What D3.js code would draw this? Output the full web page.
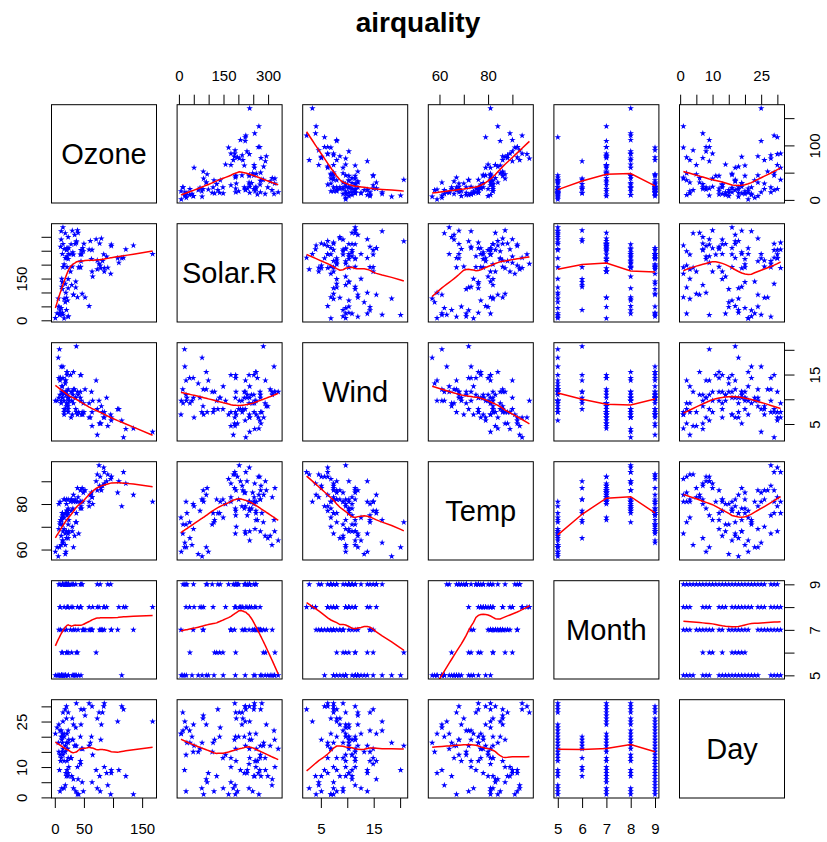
<!DOCTYPE html>
<html>
<head>
<meta charset="utf-8">
<script src="https://cdn.jsdelivr.net/npm/d3@7"></script>
<style>
  body { margin: 0; background: #fff; }
  text { font-family: "Liberation Sans", Arial, Helvetica, sans-serif; }
</style>
</head>
<body>
<div id="container"></div>
<script>
const width = 827, height = 842;

// airquality data (null = NA)
const varNames = ["Ozone", "Solar.R", "Wind", "Temp", "Month", "Day"];

const ozone = [
  41,36,12,18,null,28,23,19,8,null,7,16,11,14,18,14,34,6,30,11,1,11,4,32,null,null,null,23,45,115,37,
  null,null,null,null,null,null,29,null,71,39,null,null,23,null,null,21,37,20,12,13,null,null,null,null,null,null,null,null,null,null,
  135,49,32,null,64,40,77,97,97,85,null,10,27,null,7,48,35,61,79,63,16,null,null,80,108,20,52,82,50,64,59,
  39,9,16,78,35,66,122,89,110,null,null,44,28,65,null,22,59,23,31,44,21,9,null,45,168,73,null,76,118,84,85,
  96,78,73,91,47,32,20,23,21,24,44,21,28,9,13,46,18,13,24,16,13,23,36,7,14,30,null,14,18,20
];
const solarR = [
  190,118,149,313,null,null,299,99,19,194,null,256,290,274,65,334,307,78,322,44,8,320,25,92,66,266,null,13,252,223,279,
  286,287,242,186,220,264,127,273,291,323,259,250,148,332,322,191,284,37,120,137,150,59,91,250,135,127,47,98,31,138,
  269,248,236,101,175,314,276,267,272,175,139,264,175,291,48,260,274,285,187,220,7,258,295,294,223,81,82,213,275,253,254,
  83,24,77,null,null,null,255,229,207,222,137,192,273,157,64,71,51,115,244,190,259,36,255,212,238,215,153,203,225,237,188,
  167,197,183,189,95,92,252,220,230,259,236,259,238,24,112,237,224,27,238,201,238,14,139,49,20,193,145,191,131,223
];
const wind = [
  7.4,8.0,12.6,11.5,14.3,14.9,8.6,13.8,20.1,8.6,6.9,9.7,9.2,10.9,13.2,11.5,12.0,18.4,11.5,9.7,9.7,16.6,9.7,12.0,16.6,14.9,8.0,12.0,14.9,5.7,7.4,
  8.6,9.7,16.1,9.2,8.6,14.3,9.7,6.9,13.8,11.5,10.9,9.2,8.0,13.8,11.5,14.9,20.7,9.2,11.5,10.3,6.3,1.7,4.6,6.3,8.0,8.0,10.3,11.5,14.9,8.0,
  4.1,9.2,9.2,10.9,4.6,10.9,5.1,6.3,5.7,7.4,8.6,14.3,14.9,14.9,14.3,6.9,10.3,6.3,5.1,11.5,6.9,9.7,11.5,8.6,8.0,8.6,12.0,7.4,7.4,7.4,9.2,
  6.9,13.8,7.4,6.9,7.4,4.6,4.0,10.3,8.0,8.6,11.5,11.5,11.5,9.7,11.5,10.3,6.3,7.4,10.9,10.3,15.5,14.3,12.6,9.7,3.4,8.0,5.7,9.7,2.3,6.3,6.3,
  6.9,5.1,2.8,4.6,7.4,15.5,10.9,10.3,10.9,9.7,14.9,15.5,6.3,10.9,11.5,6.9,13.8,10.3,10.3,8.0,12.6,9.2,10.3,10.3,16.6,6.9,13.2,14.3,8.0,11.5
];
const temp = [
  67,72,74,62,56,66,65,59,61,69,74,69,66,68,58,64,66,57,68,62,59,73,61,61,57,58,57,67,81,79,76,
  78,74,67,84,85,79,82,87,90,87,93,92,82,80,79,77,72,65,73,76,77,76,76,76,75,78,73,80,77,83,
  84,85,81,84,83,83,88,92,92,89,82,73,81,91,80,81,82,84,87,85,74,81,82,86,85,82,86,88,86,83,81,
  81,81,82,86,85,87,89,90,90,92,86,86,82,80,79,77,79,76,78,78,77,72,75,79,81,86,88,97,94,96,94,
  91,92,93,93,87,84,80,78,75,73,81,76,77,71,71,78,67,76,68,82,64,71,81,69,63,70,77,75,76,68
];
const month = [
  5,5,5,5,5,5,5,5,5,5,5,5,5,5,5,5,5,5,5,5,5,5,5,5,5,5,5,5,5,5,5,
  6,6,6,6,6,6,6,6,6,6,6,6,6,6,6,6,6,6,6,6,6,6,6,6,6,6,6,6,6,6,
  7,7,7,7,7,7,7,7,7,7,7,7,7,7,7,7,7,7,7,7,7,7,7,7,7,7,7,7,7,7,7,
  8,8,8,8,8,8,8,8,8,8,8,8,8,8,8,8,8,8,8,8,8,8,8,8,8,8,8,8,8,8,8,
  9,9,9,9,9,9,9,9,9,9,9,9,9,9,9,9,9,9,9,9,9,9,9,9,9,9,9,9,9,9
];
const day = [
  1,2,3,4,5,6,7,8,9,10,11,12,13,14,15,16,17,18,19,20,21,22,23,24,25,26,27,28,29,30,31,
  1,2,3,4,5,6,7,8,9,10,11,12,13,14,15,16,17,18,19,20,21,22,23,24,25,26,27,28,29,30,
  1,2,3,4,5,6,7,8,9,10,11,12,13,14,15,16,17,18,19,20,21,22,23,24,25,26,27,28,29,30,31,
  1,2,3,4,5,6,7,8,9,10,11,12,13,14,15,16,17,18,19,20,21,22,23,24,25,26,27,28,29,30,31,
  1,2,3,4,5,6,7,8,9,10,11,12,13,14,15,16,17,18,19,20,21,22,23,24,25,26,27,28,29,30
];
const columns = [ozone, solarR, wind, temp, month, day];

// tick positions and which ticks get a label (x axes / y axes)
const tickValues = [
  [0,50,100,150], [0,50,100,150,200,250,300], [5,10,15,20],
  [60,70,80,90], [5,6,7,8,9], [0,5,10,15,20,25,30]
];
const xTickLabels = [[0,50,150], [0,150,300], [5,15], [60,80], [5,6,7,8,9], [0,10,25]];
const yTickLabels = [[0,100], [0,150], [5,15], [60,80], [5,7,9], [0,10,25]];

// layout
const left0 = 51.5, top0 = 104.7,
  panelW = 105, panelH = 98.3,
  stepX = 125.6, stepY = 119,
  nVar = varNames.length;

// rows with no NA (the plot drops incomplete rows)
const complete = d3.range(ozone.length).filter(k => columns.every(c => c[k] !== null));

const svg = d3.select("#container")
  .append("svg")
  .attr("width", width)
  .attr("height", height);

// R style range, extended by 4%
function extRange(col) {
  const e = d3.extent(complete, k => col[k]);
  const r = e[1] - e[0];
  return [e[0] - 0.04 * r, e[1] + 0.04 * r];
}

const xScales = columns.map((col, j) => d3.scaleLinear()
  .domain(extRange(col))
  .range([left0 + j * stepX, left0 + j * stepX + panelW]));
const yScales = columns.map((col, i) => d3.scaleLinear()
  .domain(extRange(col))
  .range([top0 + i * stepY + panelH, top0 + i * stepY]));

// port of R's clowess (f = 2/3, iter = 3)
function lowess(xIn, yIn, f = 2 / 3, iter = 3) {
  const idx = d3.range(xIn.length).sort((a, b) => xIn[a] - xIn[b]);
  const x = idx.map(k => xIn[k]), y = idx.map(k => yIn[k]);
  const n = x.length;
  const delta = 0.01 * (x[n - 1] - x[0]);
  const ns = Math.max(2, Math.min(n, Math.floor(f * n + 1e-7)));
  const ys = new Array(n).fill(0), rw = new Array(n).fill(1),
    res = new Array(n).fill(0), w = new Array(n).fill(0);

  function lowest(xs, nleft, nright, userw) {
    const range = x[n - 1] - x[0];
    const h = Math.max(xs - x[nleft], x[nright] - xs);
    const h9 = 0.999 * h, h1 = 0.001 * h;
    let a = 0, j = nleft;
    while (j < n) {
      w[j] = 0;
      const r = Math.abs(x[j] - xs);
      if (r <= h9) {
        if (r <= h1) w[j] = 1;
        else w[j] = Math.pow(1 - Math.pow(r / h, 3), 3);
        if (userw) w[j] *= rw[j];
        a += w[j];
      } else if (x[j] > xs) break;
      j++;
    }
    const nrt = j - 1;
    if (a <= 0) return null;
    for (j = nleft; j <= nrt; j++) w[j] /= a;
    if (h > 0) {
      a = 0;
      for (j = nleft; j <= nrt; j++) a += w[j] * x[j];
      let b = xs - a, c = 0;
      for (j = nleft; j <= nrt; j++) c += w[j] * (x[j] - a) * (x[j] - a);
      if (Math.sqrt(c) > 0.001 * range) {
        b /= c;
        for (j = nleft; j <= nrt; j++) w[j] *= (b * (x[j] - a) + 1);
      }
    }
    let out = 0;
    for (j = nleft; j <= nrt; j++) out += w[j] * y[j];
    return out;
  }

  for (let it = 1; it <= iter + 1; it++) {
    let nleft = 0, nright = ns - 1, last = -1, i = 0;
    for (;;) {
      if (nright < n - 1) {
        const d1 = x[i] - x[nleft], d2 = x[nright + 1] - x[i];
        if (d1 > d2) { nleft++; nright++; continue; }
      }
      const v = lowest(x[i], nleft, nright, it > 1);
      ys[i] = v === null ? y[i] : v;
      if (last < i - 1) {
        const denom = x[i] - x[last];
        for (let j = last + 1; j < i; j++) {
          const alpha = (x[j] - x[last]) / denom;
          ys[j] = alpha * ys[i] + (1 - alpha) * ys[last];
        }
      }
      last = i;
      const cut = x[last] + delta;
      for (i = last + 1; i < n; i++) {
        if (x[i] > cut) break;
        if (x[i] === x[last]) { ys[i] = ys[last]; last = i; }
      }
      i = Math.max(last + 1, i - 1);
      if (last >= n - 1) break;
    }
    for (let k = 0; k < n; k++) res[k] = y[k] - ys[k];
    const sc = d3.sum(res, d => Math.abs(d)) / n;
    if (it > iter) break;
    const ar = res.map(d => Math.abs(d));
    const sorted = ar.slice().sort((a, b) => a - b);
    const m1 = Math.floor(n / 2);
    const cmad = n % 2 === 0 ? 3 * (sorted[m1] + sorted[m1 - 1]) : 6 * sorted[m1];
    if (cmad < 1e-7 * sc) break;
    const c9 = 0.999 * cmad, c1 = 0.001 * cmad;
    for (let k = 0; k < n; k++) {
      const r = ar[k];
      rw[k] = r <= c1 ? 1 : (r <= c9 ? Math.pow(1 - (r / cmad) * (r / cmad), 2) : 0);
    }
  }
  return x.map((xv, k) => [xv, ys[k]]);
}

const star = d3.symbol().type(d3.symbolStar).size(13);
const defs = svg.append("defs");

// panels
for (let i = 0; i < nVar; i++) {
  for (let j = 0; j < nVar; j++) {
    const xs = xScales[j], ys = yScales[i];
    const px = left0 + j * stepX, py = top0 + i * stepY;
    const g = svg.append("g").attr("class", `panel p${i}${j}`);

    if (i === j) {
      g.append("text")
        .attr("x", px + panelW / 2)
        .attr("y", py + panelH / 2)
        .attr("dy", "0.36em")
        .attr("text-anchor", "middle")
        .attr("font-size", 29)
        .text(varNames[i]);
    } else {
      defs.append("clipPath")
        .attr("id", `clip${i}${j}`)
        .append("rect")
        .attr("x", px).attr("y", py)
        .attr("width", panelW).attr("height", panelH);
      const inner = g.append("g").attr("clip-path", `url(#clip${i}${j})`);

      const pts = complete.map(k => [columns[j][k], columns[i][k]]);

      inner.selectAll("path.dot")
        .data(pts)
        .join("path")
        .attr("class", "dot")
        .attr("d", star)
        .attr("transform", d => `translate(${xs(d[0])},${ys(d[1])})`)
        .attr("fill", "#0000ff");

      const smooth = lowess(pts.map(d => d[0]), pts.map(d => d[1]));
      inner.append("path")
        .datum(smooth)
        .attr("fill", "none")
        .attr("stroke", "#ff0000")
        .attr("stroke-width", 1.5)
        .attr("d", d3.line().x(d => xs(d[0])).y(d => ys(d[1])));
    }

    g.append("rect")
      .attr("x", px)
      .attr("y", py)
      .attr("width", panelW)
      .attr("height", panelH)
      .attr("fill", "none")
      .attr("stroke", "#000")
      .attr("stroke-width", 1);
  }
}

// x axes: odd columns on top, even columns at bottom
for (let j = 0; j < nVar; j++) {
  const atBottom = j % 2 === 0;
  const axis = (atBottom ? d3.axisBottom : d3.axisTop)(xScales[j])
    .tickValues(tickValues[j])
    .tickSize(10)
    .tickFormat(d => xTickLabels[j].includes(d) ? d : "");
  const yPos = atBottom ? top0 + (nVar - 1) * stepY + panelH : top0;
  const ax = svg.append("g")
    .attr("transform", `translate(0,${yPos})`)
    .call(axis);
  ax.select(".domain").remove();
  ax.selectAll("text")
    .attr("font-size", 15)
    .attr("font-family", "Liberation Sans, Arial, sans-serif")
    .attr("fill", "#000")
    .attr("y", atBottom ? 25 : -24)
    .attr("dy", atBottom ? "0.71em" : "0");
}

// y axes: even rows on right, odd rows on left
for (let i = 0; i < nVar; i++) {
  const onRight = i % 2 === 0;
  const axis = (onRight ? d3.axisRight : d3.axisLeft)(yScales[i])
    .tickValues(tickValues[i])
    .tickSize(10)
    .tickFormat(d => yTickLabels[i].includes(d) ? d : "");
  const xPos = onRight ? left0 + (nVar - 1) * stepX + panelW : left0;
  const ax = svg.append("g")
    .attr("transform", `translate(${xPos},0)`)
    .call(axis);
  ax.select(".domain").remove();
  ax.selectAll("text")
    .attr("font-size", 15)
    .attr("font-family", "Liberation Sans, Arial, sans-serif")
    .attr("fill", "#000")
    .attr("transform", "rotate(-90)")
    .attr("text-anchor", "middle")
    .attr("x", 0)
    .attr("dy", "0")
    .attr("y", onRight ? 35.5 : -25);
}

svg.append("text")
  .attr("x", left0 + ((nVar - 1) * stepX + panelW) / 2)
  .attr("y", 32)
  .attr("text-anchor", "middle")
  .attr("font-size", 28)
  .attr("font-weight", "bold")
  .text("airquality");
</script>
</body>
</html>
